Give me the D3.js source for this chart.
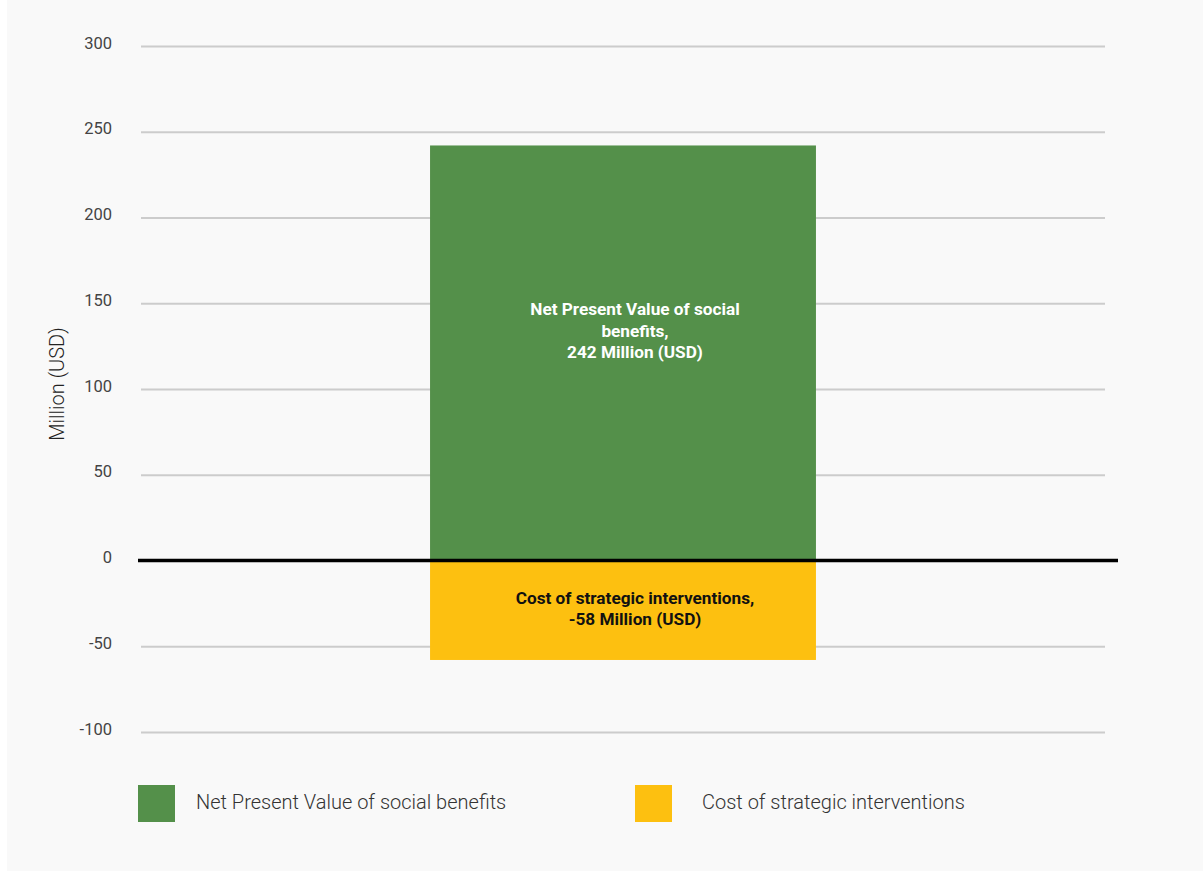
<!DOCTYPE html>
<html>
<head>
<meta charset="utf-8">
<script src="https://cdn.jsdelivr.net/npm/d3@7"></script>
<style>
  html, body { margin: 0; padding: 0; background: #ffffff; }
  svg { display: block; font-family: Roboto, "Noto Sans", sans-serif; }
</style>
</head>
<body>
<svg id="chart" width="1203" height="871"></svg>
<script>
// Chart data
const seriesNames = ["Net Present Value of social benefits", "Cost of strategic interventions"];
const seriesValues = [242, -58];
const seriesColors = ["#54904a", "#fdc010"];
const barLabels = [
  ["Net Present Value of social", "benefits,", "242 Million (USD)"],
  ["Cost of strategic interventions,", "-58 Million (USD)"]
];
const yTicks = [300, 250, 200, 150, 100, 50, 0, -50, -100];
const yTitle = "Million (USD)";
const category = ["Total"];

const svg = d3.select("#chart");
const W = 1203, H = 871;

svg.append("rect").attr("x", 7).attr("y", 0).attr("width", W - 7).attr("height", H).attr("fill", "#f9f9f9");

const plot = { left: 141, right: 1105, top: 46, bottom: 732 };

const y = d3.scaleLinear().domain([-100, 300]).range([plot.bottom, plot.top]);
const x = d3.scaleBand().domain(category).range([plot.left, plot.right]).paddingInner(0).paddingOuter(0.749);

// gridlines
svg.append("g")
  .attr("transform", `translate(${plot.left},0)`)
  .call(d3.axisLeft(y).tickValues(yTicks.filter(d => d !== 0)).tickSize(-(plot.right - plot.left)).tickFormat(""))
  .call(g => g.select(".domain").remove())
  .call(g => g.selectAll(".tick line").attr("stroke", "#cccccc").attr("stroke-width", 2));

// y tick labels
svg.append("g")
  .attr("transform", "translate(112,0)")
  .call(d3.axisLeft(y).tickValues(yTicks).tickSize(0).tickPadding(0).tickFormat(d => String(d)))
  .call(g => g.select(".domain").remove())
  .call(g => g.selectAll(".tick text")
    .attr("font-family", "Roboto, sans-serif")
    .attr("font-size", 16.5)
    .attr("fill", "#444444")
    .attr("dy", "-0.05em")
    .attr("transform", "translate(0,3)"));

// bars: positive from zero up, negative from zero down
const bars = svg.append("g");
seriesValues.forEach((v, i) => {
  bars.append("rect")
    .attr("x", x("Total"))
    .attr("width", x.bandwidth())
    .attr("y", y(Math.max(0, v)))
    .attr("height", Math.abs(y(v) - y(0)))
    .attr("fill", seriesColors[i]);
});

// zero baseline
svg.append("line")
  .attr("x1", 138).attr("x2", 1118)
  .attr("y1", y(0)).attr("y2", y(0))
  .attr("stroke", "#000").attr("stroke-width", 3.5);

// in-bar labels
const cx = x("Total") + x.bandwidth() / 2 + 12;
const lineH = 21.5;
const labelColors = ["#ffffff", "#111111"];
const labelTop = [y(150) + 12, y(0) + 43];
barLabels.forEach((lines, i) => {
  const t = svg.append("text")
    .attr("text-anchor", "middle")
    .attr("font-family", "Roboto, sans-serif")
    .attr("font-weight", 700)
    .attr("font-size", 17.2)
    .attr("fill", labelColors[i]);
  lines.forEach((s, j) => {
    t.append("tspan").attr("x", cx).attr("y", labelTop[i] + j * lineH).text(s);
  });
});

// y axis title
svg.append("text")
  .attr("transform", `translate(64,384) rotate(-90)`)
  .attr("text-anchor", "middle")
  .attr("font-family", "Roboto, sans-serif")
  .attr("font-weight", 300)
  .attr("font-size", 20)
  .attr("fill", "#222")
  .text(yTitle);

// legend
const legendX = [138, 635];
const legendTextX = [196, 702];
seriesNames.forEach((name, i) => {
  svg.append("rect").attr("x", legendX[i]).attr("y", 785)
    .attr("width", 37).attr("height", 37).attr("fill", seriesColors[i]);
  svg.append("text")
    .attr("x", legendTextX[i]).attr("y", 809)
    .attr("font-family", "Roboto, sans-serif")
    .attr("font-weight", 300)
    .attr("font-size", 20)
    .attr("fill", "#333")
    .text(name);
});
</script>
</body>
</html>
